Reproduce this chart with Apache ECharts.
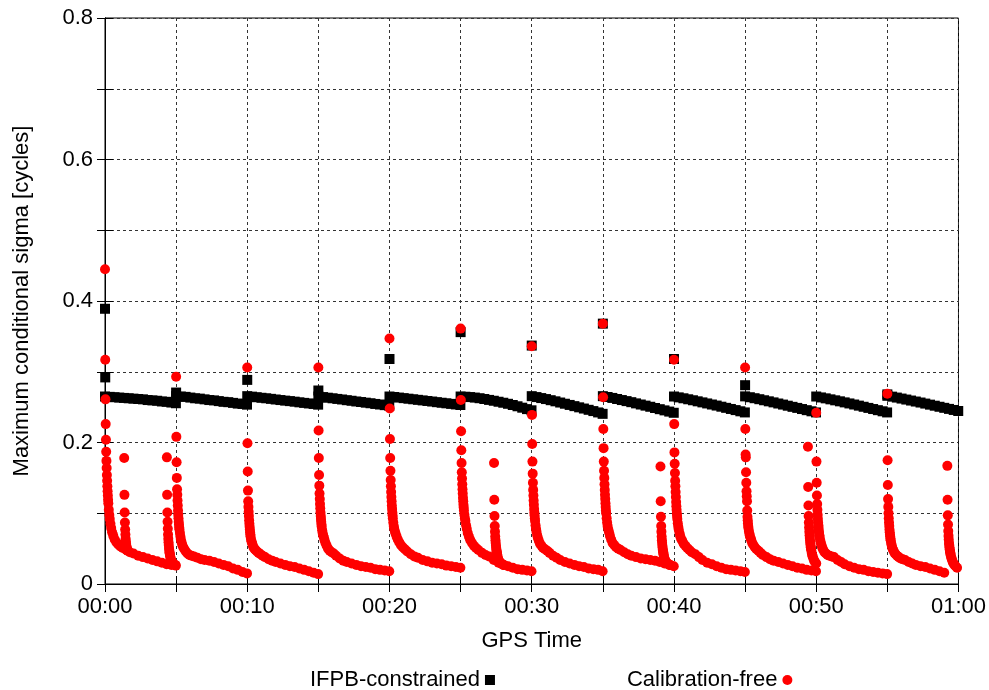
<!DOCTYPE html>
<html lang="en">
<head>
<meta charset="UTF-8">
<title>Maximum conditional sigma</title>
<script src="https://cdn.jsdelivr.net/npm/echarts@6/dist/echarts.min.js"></script>
<style>
    * { margin:0; padding:0; }
    #main { width:989px; height:690px; background:#fff; }
</style>
</head>
<body>
<div id="main"></div>
<script>
// time is in seconds after 00:00 GPS time
var resetTimes = [0, 300, 600, 900, 1200, 1500, 1800, 2100, 2400, 2700, 3000, 3300];
var xTickLabels = ['00:00', '00:10', '00:20', '00:30', '00:40', '00:50', '01:00'];
var yTickLabels = ['0', '0.2', '0.4', '0.6', '0.8'];

// Calibration-free: offsets (s) after each reset, and values read per segment
var redOffsets = [0,1,2,3,4,5,6,7,8,9,10,11,12,13,14,16,18,20,23,26,30,35,41,48,56,65,75,90,105,120,140,160,180,200,220,240,260,280,299];
var cf00 = [0.445,0.317,0.261,0.226,0.204,0.187,0.174,0.164,0.154,0.146,0.138,0.131,0.125,0.119,0.114,0.105,0.098,0.092,0.085,0.079,0.073,0.068,0.063,0.059,0.056,0.053,0.051,0.048,0.045,0.043,0.040,0.038,0.036,0.034,0.032,0.030,0.028,0.027,0.026];
var cf05 = [0.293,0.208,0.172,0.150,0.134,0.126,0.118,0.111,0.104,0.098,0.093,0.088,0.084,0.080,0.077,0.072,0.067,0.063,0.059,0.055,0.052,0.049,0.046,0.043,0.041,0.040,0.039,0.037,0.035,0.034,0.033,0.031,0.029,0.027,0.025,0.022,0.020,0.017,0.015];
var cf10 = [0.306,0.199,0.159,0.132,0.117,0.109,0.102,0.096,0.090,0.085,0.081,0.077,0.073,0.070,0.067,0.063,0.060,0.058,0.055,0.052,0.050,0.048,0.046,0.044,0.042,0.040,0.038,0.035,0.033,0.031,0.029,0.027,0.025,0.024,0.022,0.020,0.018,0.016,0.014];
var cf15 = [0.306,0.217,0.178,0.154,0.139,0.128,0.120,0.113,0.107,0.101,0.096,0.092,0.088,0.084,0.081,0.076,0.072,0.069,0.066,0.062,0.058,0.054,0.050,0.047,0.045,0.043,0.040,0.036,0.033,0.031,0.029,0.027,0.025,0.024,0.023,0.021,0.020,0.019,0.018];
var cf20 = [0.347,0.248,0.205,0.178,0.160,0.147,0.138,0.130,0.123,0.117,0.111,0.106,0.101,0.097,0.093,0.087,0.082,0.078,0.074,0.071,0.067,0.063,0.059,0.055,0.052,0.049,0.046,0.042,0.039,0.037,0.034,0.032,0.030,0.029,0.028,0.026,0.025,0.024,0.023];
var cf25 = [0.361,0.260,0.216,0.189,0.171,0.158,0.149,0.141,0.134,0.128,0.122,0.117,0.112,0.108,0.104,0.098,0.093,0.089,0.083,0.078,0.072,0.067,0.062,0.058,0.054,0.051,0.048,0.044,0.041,0.039,0.034,0.030,0.027,0.025,0.023,0.021,0.020,0.019,0.018];
var cf30 = [0.336,0.239,0.198,0.173,0.156,0.143,0.133,0.125,0.118,0.112,0.106,0.101,0.097,0.093,0.089,0.083,0.078,0.074,0.069,0.065,0.061,0.057,0.054,0.051,0.049,0.047,0.044,0.040,0.037,0.034,0.031,0.029,0.027,0.025,0.024,0.022,0.021,0.020,0.018];
var cf35 = [0.368,0.264,0.219,0.192,0.173,0.160,0.150,0.141,0.133,0.126,0.120,0.114,0.109,0.104,0.100,0.093,0.087,0.082,0.077,0.073,0.068,0.063,0.058,0.055,0.052,0.050,0.048,0.045,0.042,0.040,0.038,0.036,0.035,0.034,0.033,0.031,0.029,0.027,0.025];
var cf40 = [0.317,0.226,0.186,0.170,0.157,0.146,0.138,0.130,0.123,0.116,0.110,0.105,0.100,0.096,0.092,0.086,0.081,0.077,0.072,0.068,0.064,0.061,0.057,0.054,0.051,0.048,0.045,0.042,0.038,0.034,0.030,0.028,0.025,0.023,0.021,0.020,0.019,0.018,0.017];
var cf45 = [0.306,0.219,0.183,0.179,0.158,0.143,0.131,0.124,0.117,0.104,0.095,0.090,0.086,0.082,0.079,0.075,0.071,0.068,0.065,0.062,0.058,0.055,0.052,0.049,0.047,0.044,0.041,0.038,0.035,0.033,0.031,0.029,0.027,0.025,0.023,0.022,0.020,0.019,0.018];
var cf50 = [0.242,0.173,0.143,0.125,0.113,0.105,0.098,0.092,0.087,0.083,0.079,0.075,0.072,0.069,0.067,0.063,0.060,0.057,0.054,0.051,0.048,0.045,0.043,0.041,0.040,0.039,0.038,0.034,0.031,0.028,0.025,0.023,0.021,0.020,0.018,0.017,0.016,0.015,0.014];
var cf55 = [0.269,0.175,0.140,0.120,0.109,0.100,0.093,0.087,0.082,0.077,0.073,0.070,0.067,0.064,0.062,0.058,0.055,0.052,0.049,0.047,0.044,0.042,0.040,0.038,0.036,0.035,0.034,0.031,0.029,0.027,0.025,0.024,0.022,0.020,0.018,0.016];

// short extra bursts inside a segment (new satellites)
var subStarts = [81, 261, 1641, 2343, 2965, 3553];
var cfSub0 = [0.178,0.126,0.101,0.087,0.077,0.070,0.064,0.060,0.057,0.054,0.052,0.050,0.049,0.048,0.047];
var cfSub1 = [0.179,0.126,0.101,0.088,0.078,0.070,0.064,0.059,0.055,0.051,0.048,0.045,0.043,0.041,0.039,0.036,0.034,0.032,0.030,0.029,0.028,0.027];
var cfSub2 = [0.171,0.119,0.096,0.082,0.074,0.067,0.062,0.058,0.054,0.051,0.048,0.046,0.044,0.042,0.040,0.037,0.035,0.033,0.031,0.030,0.029,0.028,0.027];
var cfSub3 = [0.166,0.117,0.095,0.082,0.074,0.067,0.062,0.058,0.054,0.051,0.048,0.046,0.044,0.042,0.040,0.037,0.035,0.033,0.031,0.030,0.029,0.028,0.027];
var cfSub4 = [0.194,0.137,0.111,0.096,0.087,0.080,0.074,0.069,0.065,0.061,0.058,0.055,0.052,0.050,0.048,0.044,0.041,0.039,0.036,0.033,0.031,0.029];
var cfSub5 = [0.167,0.119,0.097,0.084,0.075,0.068,0.063,0.058,0.055,0.052,0.049,0.047,0.045,0.043,0.041,0.038,0.036,0.034,0.031,0.029,0.027,0.025,0.023];

// IFPB-constrained: first-epoch spikes and the slowly falling band
var ifpbSpikes = [[0,0.389],[1,0.292],[300,0.2706],[600,0.2885],[900,0.2735],[1200,0.318],[1500,0.356],[1800,0.337],[2100,0.368],[2400,0.318],[2700,0.281],[3300,0.268]];
var bandOffsets = [0,20,40,60,80,100,120,140,160,180,200,220,240,260,280,299];
var ifpb00 = [0.2650,0.2645,0.2640,0.2635,0.2630,0.2625,0.2620,0.2615,0.2610,0.2600,0.2595,0.2590,0.2580,0.2575,0.2565,0.2555];
var ifpb05 = [0.2655,0.2650,0.2645,0.2635,0.2625,0.2620,0.2610,0.2600,0.2595,0.2585,0.2575,0.2570,0.2560,0.2550,0.2545,0.2535];
var ifpb10 = [0.2655,0.2648,0.2640,0.2632,0.2625,0.2617,0.2608,0.2600,0.2592,0.2585,0.2577,0.2568,0.2560,0.2552,0.2545,0.2535];
var ifpb15 = [0.2650,0.2642,0.2633,0.2625,0.2616,0.2608,0.2598,0.2590,0.2580,0.2572,0.2563,0.2555,0.2545,0.2537,0.2528,0.2520];
var ifpb20 = [0.2650,0.2643,0.2635,0.2627,0.2619,0.2611,0.2603,0.2595,0.2587,0.2579,0.2570,0.2562,0.2554,0.2546,0.2538,0.2530];
var ifpb25 = [0.2650,0.2647,0.2642,0.2635,0.2626,0.2615,0.2602,0.2590,0.2576,0.2562,0.2547,0.2530,0.2512,0.2492,0.2472,0.2455];
var ifpb30 = [0.2655,0.2642,0.2628,0.2614,0.2598,0.2582,0.2565,0.2548,0.2531,0.2514,0.2497,0.2480,0.2462,0.2444,0.2425,0.2405];
var ifpb35 = [0.2655,0.2643,0.2630,0.2615,0.2600,0.2585,0.2570,0.2553,0.2537,0.2521,0.2505,0.2488,0.2471,0.2454,0.2437,0.2420];
var ifpb40 = [0.2650,0.2638,0.2625,0.2611,0.2597,0.2582,0.2567,0.2552,0.2537,0.2522,0.2506,0.2490,0.2474,0.2458,0.2441,0.2425];
var ifpb45 = [0.2652,0.2640,0.2626,0.2612,0.2597,0.2582,0.2567,0.2551,0.2536,0.2520,0.2504,0.2489,0.2473,0.2457,0.2441,0.2425];
var ifpb50 = [0.2650,0.2637,0.2624,0.2610,0.2596,0.2582,0.2567,0.2552,0.2537,0.2521,0.2505,0.2489,0.2473,0.2457,0.2441,0.2425];
var ifpb55 = [0.2660,0.2648,0.2635,0.2621,0.2607,0.2593,0.2579,0.2565,0.2550,0.2535,0.2520,0.2505,0.2490,0.2475,0.2460,0.2445];

var cfSegs = [cf00, cf05, cf10, cf15, cf20, cf25, cf30, cf35, cf40, cf45, cf50, cf55];
var cfSubs = [cfSub0, cfSub1, cfSub2, cfSub3, cfSub4, cfSub5];
var ifpbSegs = [ifpb00, ifpb05, ifpb10, ifpb15, ifpb20, ifpb25, ifpb30, ifpb35, ifpb40, ifpb45, ifpb50, ifpb55];

function toPoints(start, offsets, vals) {
    return vals.map(function (v, i) { return [start + offsets[i], v]; });
}

var cfData = [];
cfSegs.forEach(function (vals, k) { cfData = cfData.concat(toPoints(resetTimes[k], redOffsets, vals)); });
cfSubs.forEach(function (vals, k) { cfData = cfData.concat(toPoints(subStarts[k], redOffsets, vals)); });

var ifpbData = [];
ifpbSegs.forEach(function (vals, k) { ifpbData = ifpbData.concat(toPoints(resetTimes[k], bandOffsets, vals)); });
ifpbData = ifpbData.concat(ifpbSpikes);

function timeLabel(v) {
    if (v % 600 !== 0) return '';
    return xTickLabels[v / 600];
}
function sigmaLabel(v) {
    var k = Math.round(v * 10);
    if (k % 2 !== 0) return '';
    return yTickLabels[k / 2];
}

var font = 'Liberation Sans, Arial, sans-serif';
var gridLine = { show: true, lineStyle: { color: '#333', type: [3, 3], width: 1 } };

var chart = echarts.init(document.getElementById('main'));
var option = {
    animation: false,
    backgroundColor: '#fff',
    textStyle: { fontFamily: font },
    grid: { left: 105, right: 26, top: 18, bottom: 106, show: true, borderColor: '#000', borderWidth: 1 },
    legend: {
        top: 664, left: 305,
        align: 'right',
        itemGap: 132,
        itemWidth: 10, itemHeight: 10,
        textStyle: { fontSize: 22, color: '#000', fontFamily: font },
        data: [
            { name: 'IFPB-constrained', icon: 'rect' },
            { name: 'Calibration-free', icon: 'circle' }
        ]
    },
    xAxis: [{
        type: 'value', min: 0, max: 3600, interval: 300,
        name: 'GPS Time', nameLocation: 'middle', nameGap: 46,
        nameTextStyle: { fontSize: 22, color: '#000', fontFamily: font },
        axisLine: { lineStyle: { color: '#000', width: 1 } },
        axisTick: { inside: true, length: 8, lineStyle: { color: '#000' } },
        axisLabel: { formatter: timeLabel, fontSize: 22, color: '#000', margin: 12, fontFamily: font, showMinLabel: true, showMaxLabel: true },
        splitLine: gridLine
    }, {
        type: 'value', position: 'top', min: 0, max: 3600, interval: 300,
        axisLine: { lineStyle: { color: '#000', width: 1 } },
        axisTick: { inside: true, length: 8, lineStyle: { color: '#000' } },
        axisLabel: { show: false },
        splitLine: { show: false }
    }],
    yAxis: [{
        type: 'value', min: 0, max: 0.8, interval: 0.1,
        name: 'Maximum conditional sigma [cycles]', nameLocation: 'middle', nameGap: 72,
        nameTextStyle: { fontSize: 22, color: '#000', fontFamily: font },
        axisLine: { show: true, lineStyle: { color: '#000', width: 1 } },
        axisTick: { show: true, inside: true, length: 8, lineStyle: { color: '#000' } },
        axisLabel: { formatter: sigmaLabel, fontSize: 22, color: '#000', margin: 12, fontFamily: font },
        splitLine: gridLine
    }, {
        type: 'value', position: 'right', min: 0, max: 0.8, interval: 0.1,
        axisLine: { show: true, lineStyle: { color: '#000', width: 1 } },
        axisTick: { show: true, inside: true, length: 8, lineStyle: { color: '#000' } },
        axisLabel: { show: false },
        splitLine: { show: false }
    }],
    series: [{
        name: 'IFPB-constrained',
        type: 'scatter',
        symbol: 'rect',
        symbolSize: 10,
        itemStyle: { color: '#000', opacity: 1 },
        data: ifpbData
    }, {
        name: 'Calibration-free',
        type: 'scatter',
        symbol: 'circle',
        symbolSize: 10,
        itemStyle: { color: '#ff0000', opacity: 1 },
        data: cfData
    }]
};
chart.setOption(option);
</script>
</body>
</html>
